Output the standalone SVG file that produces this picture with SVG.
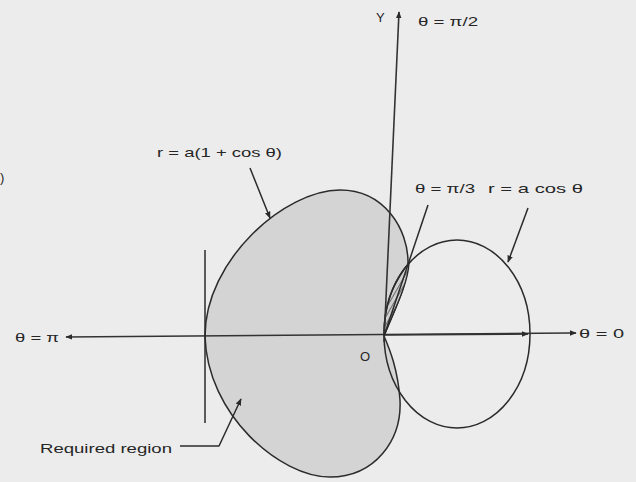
<svg xmlns="http://www.w3.org/2000/svg" width="636" height="482" viewBox="0 0 636 482">
<style>
.ln{fill:none;stroke:#2b2b2b;stroke-width:1.5;stroke-linejoin:round}
.ax{fill:none;stroke:#333;stroke-width:1.6}
.t{font-family:"Liberation Sans",Arial,sans-serif;font-size:13px;fill:#262626}
</style>
<defs>
<marker id="ah" viewBox="0 0 10 10" refX="9" refY="5" markerWidth="7" markerHeight="7" orient="auto" markerUnits="userSpaceOnUse">
<path d="M0,1 L10,5 L0,9 Z" fill="#2b2b2b"/>
</marker>
<pattern id="hatch" width="4" height="4" patternUnits="userSpaceOnUse" patternTransform="rotate(30)">
<rect width="4" height="4" fill="#cfcfcf"/>
<line x1="0" y1="0" x2="0" y2="4" stroke="#333" stroke-width="1.3"/>
</pattern>
</defs>
<rect width="636" height="482" fill="#ececec"/>
<text class="t" x="0" y="182" font-size="15">)</text>

<g id="cardioid">
<path class="ln" style="fill:#d4d4d4" d="M384,336 C392,315 408,285 408,262 C408,230 385,190 340,190 C285,190 205,260 205,336 C207,415 280,477 330,477 C375,477 402,440 400,400 C398,370 390,350 384,336 Z"/>
</g>
<g id="lens">
<path d="M384,334 A73,94 0 0 1 409,263 C408,285 392,315 384,336 Z" fill="url(#hatch)" stroke="#2b2b2b" stroke-width="1.4"/>
</g>
<g id="circle">
<ellipse class="ln" cx="457" cy="334" rx="73" ry="94"/>
</g>

<g id="connectors">
<line class="ax" x1="570" y1="333" x2="66" y2="337" marker-end="url(#ah)"/>
<line class="ax" x1="384" y1="335" x2="528" y2="334" marker-end="url(#ah)"/>
<line class="ax" x1="570" y1="333" x2="576" y2="333" marker-end="url(#ah)"/>
<line class="ax" x1="384" y1="342" x2="399" y2="12" marker-end="url(#ah)"/>
<line class="ln" x1="205" y1="250" x2="205" y2="423"/>
<line class="ln" x1="384" y1="336" x2="428" y2="205"/>
<line class="ln" x1="250" y1="168" x2="270" y2="218" marker-end="url(#ah)"/>
<line class="ln" x1="528" y1="208" x2="508" y2="262" marker-end="url(#ah)"/>
<polyline class="ln" points="180,446 219,446 241,399" marker-end="url(#ah)"/>
</g>

<g id="labels">
<text class="t" x="376" y="22">Y</text>
<text class="t" x="418" y="26" textLength="60" lengthAdjust="spacingAndGlyphs">θ = π/2</text>
<text class="t" x="157" y="157" textLength="125" lengthAdjust="spacingAndGlyphs">r = a(1 + cos θ)</text>
<text class="t" x="415" y="193" textLength="60" lengthAdjust="spacingAndGlyphs">θ = π/3</text>
<text class="t" x="488" y="193" textLength="95" lengthAdjust="spacingAndGlyphs">r = a cos θ</text>
<text class="t" x="15" y="342" textLength="44" lengthAdjust="spacingAndGlyphs">θ = π</text>
<text class="t" x="579" y="338" textLength="45" lengthAdjust="spacingAndGlyphs">θ = 0</text>
<text class="t" x="360" y="361">O</text>
<text class="t" x="40" y="453" textLength="132" lengthAdjust="spacingAndGlyphs">Required region</text>
</g>
</svg>
